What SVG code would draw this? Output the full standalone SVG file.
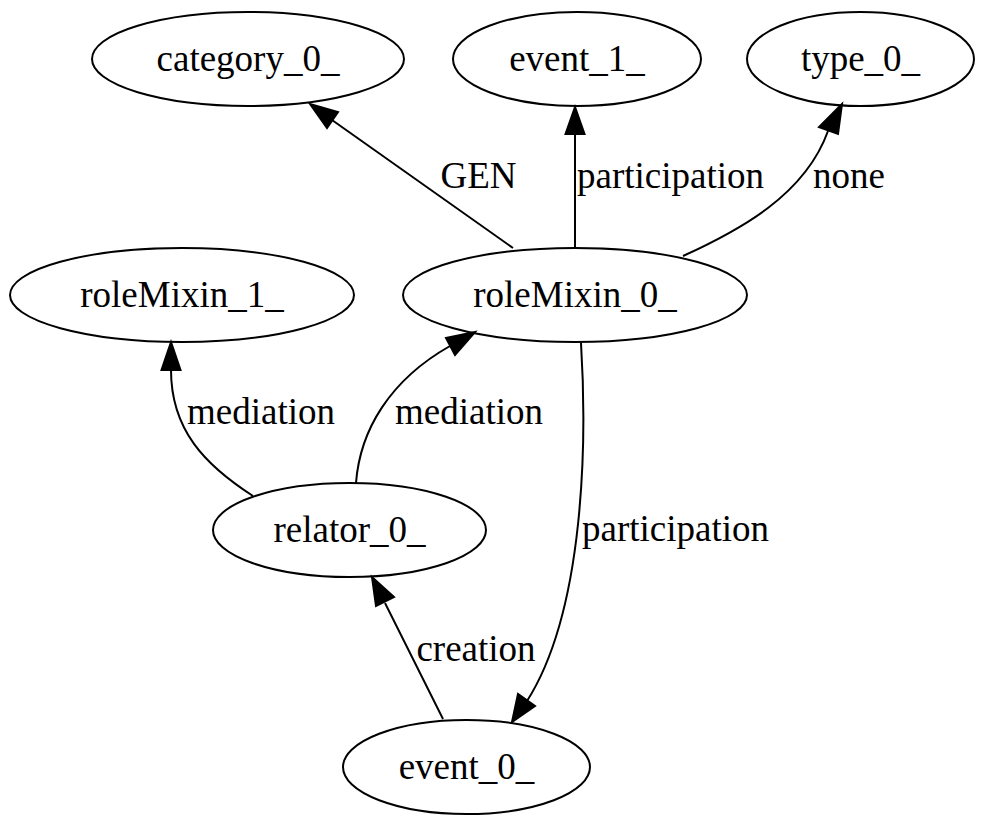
<svg xmlns="http://www.w3.org/2000/svg" width="984" height="826" viewBox="0 0 984 826">
<style>
.n ellipse{fill:none;stroke:#000;stroke-width:2}
text{font-family:"Liberation Serif","Times New Roman",serif;font-size:37px;fill:#000;text-anchor:middle}
.e path{fill:none;stroke:#000;stroke-width:2}
.e polygon{fill:#000;stroke:#000;stroke-width:2}
</style>
<rect width="984" height="826" fill="#fff"/>
<g id="category_0_" class="n"><ellipse cx="248" cy="59" rx="156" ry="47"/><text x="248" y="71">category_0_</text></g>
<g id="event_1_" class="n"><ellipse cx="577" cy="59" rx="124" ry="47"/><text x="577" y="71">event_1_</text></g>
<g id="type_0_" class="n"><ellipse cx="860.5" cy="59" rx="113.5" ry="47"/><text x="860.5" y="71">type_0_</text></g>
<g id="roleMixin_1_" class="n"><ellipse cx="182" cy="295" rx="172" ry="47"/><text x="182" y="307">roleMixin_1_</text></g>
<g id="roleMixin_0_" class="n"><ellipse cx="575" cy="295" rx="172" ry="47"/><text x="575" y="307">roleMixin_0_</text></g>
<g id="relator_0_" class="n"><ellipse cx="349.5" cy="530" rx="136.5" ry="47"/><text x="349.5" y="542">relator_0_</text></g>
<g id="event_0_" class="n"><ellipse cx="466.5" cy="767" rx="123.5" ry="47"/><text x="466.5" y="779">event_0_</text></g>
<g id="edges" class="e">
<g><path d="M513,248 L332,120"/><polygon points="310,104 327,128 338,112"/><text x="478.5" y="188">GEN</text></g>
<g><path d="M575,247 L575,134"/><polygon points="575,107 565.5,134 584.5,134"/><text x="670.5" y="188">participation</text></g>
<g><path d="M683,256 C740,230 805,195 828,131"/><polygon points="842,104 819,127 838,134"/><text x="849" y="188">none</text></g>
<g><path d="M253,496 C205,465 171,430 171,370"/><polygon points="171,342 161.5,370 180.5,370"/><text x="261" y="424">mediation</text></g>
<g><path d="M356,483 C360,430 390,380 450,346"/><polygon points="475,332 446,338 455,355"/><text x="469" y="424">mediation</text></g>
<g><path d="M581,343 C587,440 585,610 527,701"/><polygon points="512,722 518,694 535,706"/><text x="675.5" y="541">participation</text></g>
<g><path d="M443,719 L385,603"/><polygon points="372,577 376,606 394,597"/><text x="476" y="661">creation</text></g>
</g>
</svg>
